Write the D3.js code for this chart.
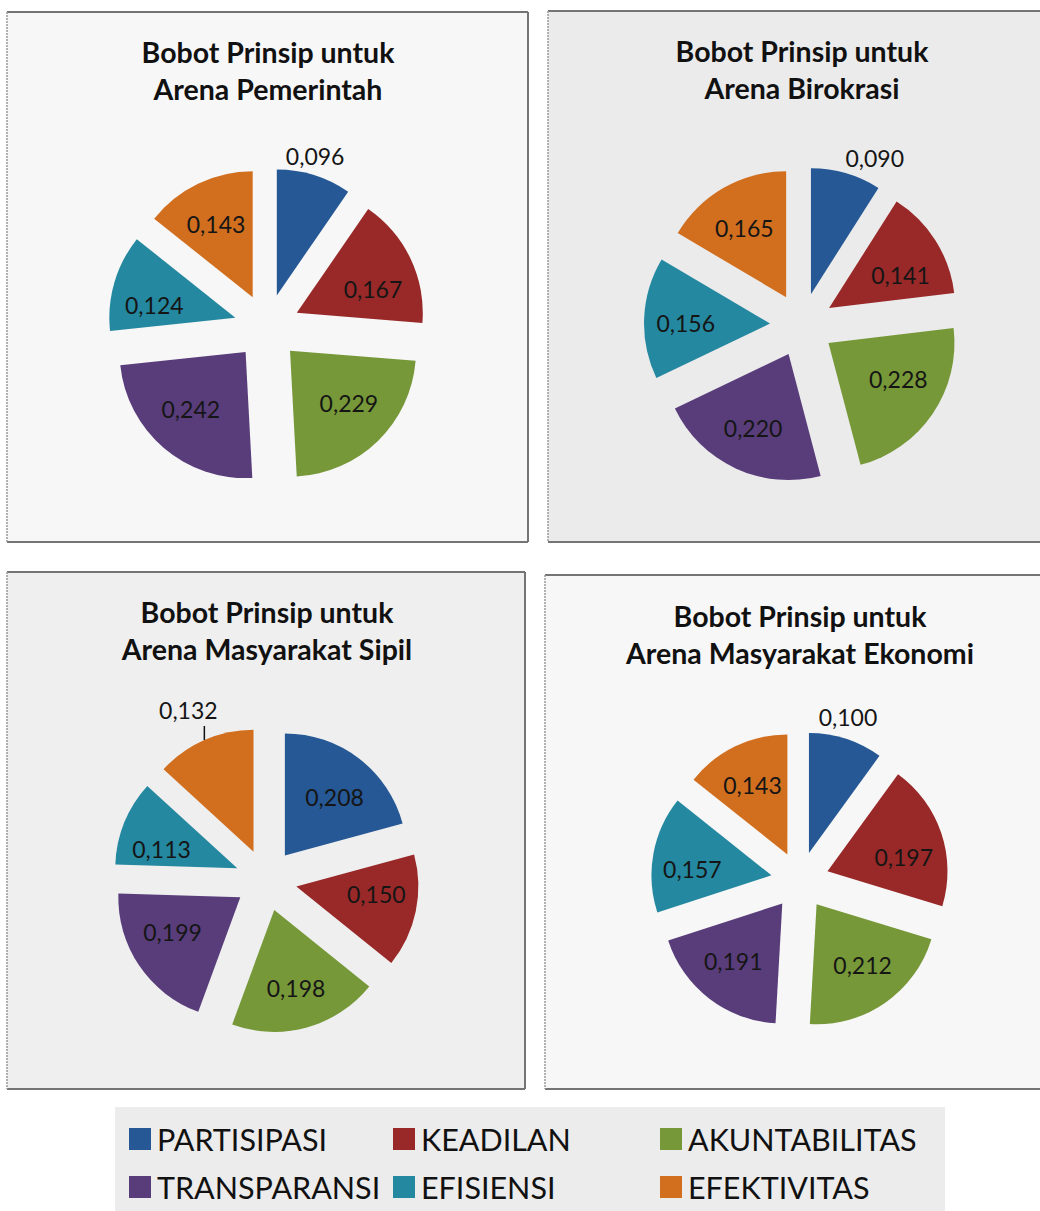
<!DOCTYPE html>
<html><head><meta charset="utf-8">
<script src="https://cdn.jsdelivr.net/npm/d3@7"></script>
<style>html,body{margin:0;padding:0;background:#fff;} svg{display:block;font-family:Lato,"Open Sans",sans-serif;}</style>
</head><body><svg id="c" width="1040" height="1211"></svg>
<script>
// ---- data ----
const categories = ["PARTISIPASI","KEADILAN","AKUNTABILITAS","TRANSPARANSI","EFISIENSI","EFEKTIVITAS"];
const colors = ["#255894","#982928","#769838","#593d7b","#2488a0","#d16f1f"];
const titleLine1 = "Bobot Prinsip untuk";
const arenaTitles = ["Arena Pemerintah","Arena Birokrasi","Arena Masyarakat Sipil","Arena Masyarakat Ekonomi"];
const pemerintah = [0.096,0.167,0.229,0.242,0.124,0.143];
const birokrasi = [0.090,0.141,0.228,0.220,0.156,0.165];
const masyarakatSipil = [0.208,0.150,0.198,0.199,0.113,0.132];
const masyarakatEkonomi = [0.100,0.197,0.212,0.191,0.157,0.143];
const seriesList = [pemerintah, birokrasi, masyarakatSipil, masyarakatEkonomi];

// ---- layout ----
const panels = [
  {x:7,  y:12,  w:521, h:530, bg:"#f7f7f7", cx:267, cy:327,   r:126, ex:33, tx:268, ty:52,  out:{i:0, dx:-5, dy:0}},
  {x:548,y:11,  w:510, h:531, bg:"#ebebeb", cx:802, cy:325,   r:126, ex:32, tx:802, ty:51,  out:{i:0, dx:23, dy:4}},
  {x:7,  y:572, w:518, h:517, bg:"#efefef", cx:266, cy:880,   r:122, ex:31, tx:267, ty:612, out:{i:5, leader:true}},
  {x:545,y:575, w:510, h:514, bg:"#f7f7f7", cx:800, cy:880.5, r:120, ex:29, tx:800, ty:616, out:{i:0, dx:-4, dy:-4}}
];

const svg = d3.select("#c");
const fmt = v => d3.format(".3f")(v).replace(".", ",");
const pie = d3.pie().sort(null).value(d => d);

panels.forEach((p, k) => {
  const g = svg.append("g");
  g.append("rect").attr("x", p.x).attr("y", p.y).attr("width", p.w).attr("height", p.h).attr("fill", p.bg);
  const bc = "#747474";
  g.append("line").attr("x1", p.x).attr("x2", p.x + p.w).attr("y1", p.y).attr("y2", p.y).attr("stroke", bc).attr("stroke-width", 2);
  g.append("line").attr("x1", p.x).attr("x2", p.x + p.w).attr("y1", p.y + p.h).attr("y2", p.y + p.h).attr("stroke", bc).attr("stroke-width", 2);
  g.append("line").attr("x1", p.x + p.w).attr("x2", p.x + p.w).attr("y1", p.y).attr("y2", p.y + p.h).attr("stroke", bc).attr("stroke-width", 2);
  g.append("line").attr("x1", p.x).attr("x2", p.x).attr("y1", p.y).attr("y2", p.y + p.h).attr("stroke", "#9a9a9a").attr("stroke-width", 1.5).attr("stroke-dasharray", "2,1");

  const t = g.append("text").attr("text-anchor", "middle").attr("font-weight", 700).attr("font-size", 28.5).attr("fill", "#111");
  t.append("tspan").attr("x", p.tx).attr("y", p.ty).attr("dominant-baseline", "central").text(titleLine1);
  t.append("tspan").attr("x", p.tx).attr("y", p.ty + 37).attr("dominant-baseline", "central").text(arenaTitles[k]);

  const arcs = pie(seriesList[k]);
  const arc = d3.arc().innerRadius(0).outerRadius(p.r);
  const dir = d => { const m = (d.startAngle + d.endAngle) / 2; return [Math.sin(m), -Math.cos(m)]; };

  const sg = g.append("g").attr("transform", `translate(${p.cx},${p.cy})`);
  sg.selectAll("path").data(arcs).join("path")
    .attr("d", arc)
    .attr("fill", (d, i) => colors[i])
    .attr("transform", d => { const [ux, uy] = dir(d); return `translate(${ux * p.ex},${uy * p.ex})`; });

  arcs.forEach((d, i) => {
    const [ux, uy] = dir(d);
    const vx = ux * p.ex, vy = uy * p.ex;
    let lx, ly;
    if (p.out.i === i) {
      if (p.out.leader) {
        const ax = vx + ux * p.r, ay = vy + uy * p.r;
        sg.append("line").attr("x1", ax).attr("y1", ay).attr("x2", ax).attr("y2", ay - 14)
          .attr("stroke", "#111").attr("stroke-width", 1.5);
        lx = ax - 16; ly = ay - 30;
      } else {
        lx = vx + ux * p.r * 1.16 + p.out.dx; ly = vy + uy * p.r * 1.16 + p.out.dy;
      }
    } else {
      lx = vx + ux * p.r * 0.67;
      ly = vy + Math.sign(uy) * Math.pow(Math.abs(uy), 1.5) * p.r * 0.68;
    }
    sg.append("text").attr("x", lx).attr("y", ly).attr("text-anchor", "middle").attr("dominant-baseline", "central")
      .attr("font-size", 23).attr("fill", "#151515").text(fmt(d.data));
  });
});

// legend
const lg = svg.append("g");
lg.append("rect").attr("x", 115).attr("y", 1107).attr("width", 830).attr("height", 104).attr("fill", "#ececec");
const colX = [129, 393, 660];
const rowY = [1139, 1187];
categories.forEach((c, i) => {
  const x = colX[i % 3], y = rowY[Math.floor(i / 3)];
  lg.append("rect").attr("x", x).attr("y", y - 11).attr("width", 22).attr("height", 22).attr("fill", colors[i]);
  lg.append("text").attr("x", x + 28).attr("y", y).attr("dominant-baseline", "central")
    .attr("font-size", 30.5).attr("fill", "#111").text(c);
});
</script></body></html>
